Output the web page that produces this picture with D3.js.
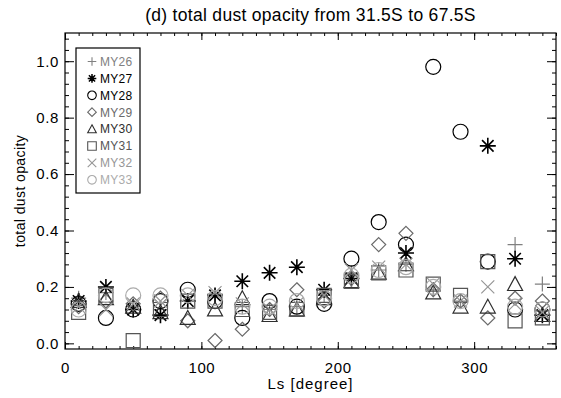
<!DOCTYPE html>
<html>
<head>
<meta charset="utf-8">
<script src="https://cdn.jsdelivr.net/npm/d3@7"></script>
<style>
  html, body { margin: 0; padding: 0; background: #fff; }
  svg { display: block; }
  text { font-family: "Liberation Sans", "DejaVu Sans", sans-serif; }
</style>
</head>
<body>
<div id="chart"></div>
<script>
// ---------------- data ----------------
const ls = [10, 30, 50, 70, 90, 110, 130, 150, 170, 190, 210, 230, 250, 270, 290, 310, 330, 350];
const seriesNames = ["MY26", "MY27", "MY28", "MY29", "MY30", "MY31", "MY32", "MY33"];
const my26 = [0.16, 0.18, 0.13, 0.12, 0.15, 0.17, 0.13, 0.12, 0.13, 0.17, 0.25, 0.26, 0.28, 0.19, 0.15, null, 0.35, 0.21];
const my27 = [0.15, 0.20, 0.12, 0.10, 0.15, 0.17, 0.22, 0.25, 0.27, 0.19, 0.23, null, 0.32, null, null, 0.70, 0.30, 0.10];
const my28 = [0.14, 0.09, 0.12, 0.15, 0.19, 0.15, 0.09, 0.15, 0.13, 0.14, 0.30, 0.43, 0.35, 0.98, 0.75, 0.29, 0.12, 0.12];
const my29 = [0.13, 0.15, 0.14, 0.16, 0.08, 0.01, 0.05, 0.12, 0.19, 0.15, 0.23, 0.35, 0.39, 0.19, 0.15, 0.09, 0.16, 0.15];
const my30 = [0.15, 0.16, 0.13, 0.11, 0.09, 0.12, 0.16, 0.10, 0.12, 0.16, 0.22, 0.25, 0.28, 0.18, 0.13, 0.13, 0.21, 0.10];
const my31 = [0.11, 0.17, 0.01, 0.12, 0.15, 0.15, 0.12, 0.11, 0.12, 0.17, 0.22, 0.25, 0.26, 0.21, 0.17, 0.29, 0.08, 0.09];
const my32 = [0.13, 0.12, 0.14, 0.15, 0.17, 0.18, 0.14, 0.12, 0.14, 0.17, 0.26, 0.27, 0.28, 0.21, 0.15, 0.20, 0.14, 0.11];
const my33 = [0.12, 0.17, 0.17, 0.17, 0.17, 0.16, 0.13, 0.13, 0.15, 0.16, 0.24, 0.26, 0.27, 0.20, 0.15, null, 0.13, 0.12];
const seriesValues = [my26, my27, my28, my29, my30, my31, my32, my33];
const seriesSymbols = ["plus", "asterisk", "circle", "diamond", "triangle", "square", "cross", "circle"];
const seriesColors = ["#808080", "#000000", "#000000", "#6a6a6a", "#2e2e2e", "#555555", "#969696", "#ababab"];

const xTicks = [0, 100, 200, 300];
const yTicks = [0.0, 0.2, 0.4, 0.6, 0.8, 1.0];
const titleText = "(d) total dust opacity from 31.5S to 67.5S";
const xLabel = "Ls [degree]";
const yLabel = "total dust opacity";

// ---------------- layout ----------------
const W = 561, H = 398;
const M = { left: 65, right: 5, top: 33, bottom: 49 };
const pw = W - M.left - M.right, ph = H - M.top - M.bottom;

const x = d3.scaleLinear().domain([0, 360]).range([0, pw]);
const y = d3.scaleLinear().domain([-0.02, 1.1]).range([ph, 0]);

const svg = d3.select("#chart").append("svg").attr("width", W).attr("height", H);
const g = svg.append("g").attr("transform", `translate(${M.left},${M.top})`);

// symbol path generator
function symPath(type, s) {
  switch (type) {
    case "plus": return `M${-s},0L${s},0M0,${-s}L0,${s}`;
    case "cross": return `M${-s},${-s}L${s},${s}M${-s},${s}L${s},${-s}`;
    case "asterisk": {
      const d = s * 0.72;
      return `M${-s},0L${s},0M0,${-s}L0,${s}M${-d},${-d}L${d},${d}M${-d},${d}L${d},${-d}`;
    }
    case "diamond": return `M0,${-s}L${s},0L0,${s}L${-s},0Z`;
    case "triangle": return `M0,${-s}L${s},${s * 0.85}L${-s},${s * 0.85}Z`;
    case "square": return `M${-s},${-s}L${s},${-s}L${s},${s}L${-s},${s}Z`;
    case "circle": return `M${s},0A${s},${s} 0 1,1 ${-s},0A${s},${s} 0 1,1 ${s},0Z`;
  }
}
const symSize = { plus: 7.5, cross: 6.5, asterisk: 8, diamond: 7, triangle: 7.5, square: 7, circle: 7.5 };

// ---------------- axes (IDL style, inward ticks, all four sides) ----------------
const axisStyle = sel => {
  sel.select(".domain").remove();
  sel.selectAll("line").attr("stroke", "#000").attr("stroke-width", 1);
  sel.selectAll("text").attr("font-size", 15).attr("letter-spacing", 0.6).attr("fill", "#000");
};
const xMinor = d3.range(0, 361, 10);
const yMinor = d3.range(0, 1.1001, 0.04).map(v => +v.toFixed(2));

// bottom
g.append("g").attr("transform", `translate(0,${ph})`)
  .call(d3.axisBottom(x).tickValues(xMinor).tickSize(-3).tickFormat(""))
  .call(axisStyle);
g.append("g").attr("transform", `translate(0,${ph})`)
  .call(d3.axisBottom(x).tickValues(xTicks).tickSize(-7).tickPadding(13).tickFormat(d3.format("d")))
  .call(axisStyle);
// top
g.append("g")
  .call(d3.axisTop(x).tickValues(xMinor).tickSize(-3).tickFormat(""))
  .call(axisStyle);
g.append("g")
  .call(d3.axisTop(x).tickValues(xTicks).tickSize(-7).tickFormat(""))
  .call(axisStyle);
// left
g.append("g")
  .call(d3.axisLeft(y).tickValues(yMinor).tickSize(-4).tickFormat(""))
  .call(axisStyle);
g.append("g")
  .call(d3.axisLeft(y).tickValues(yTicks).tickSize(-9).tickPadding(6).tickFormat(d3.format(".1f")))
  .call(axisStyle);
// right
g.append("g").attr("transform", `translate(${pw},0)`)
  .call(d3.axisRight(y).tickValues(yMinor).tickSize(-4).tickFormat(""))
  .call(axisStyle);
g.append("g").attr("transform", `translate(${pw},0)`)
  .call(d3.axisRight(y).tickValues(yTicks).tickSize(-9).tickFormat(""))
  .call(axisStyle);

// frame
g.append("rect").attr("width", pw).attr("height", ph)
  .attr("fill", "none").attr("stroke", "#000").attr("stroke-width", 1.2);

// ---------------- data marks ----------------
const clip = g.append("clipPath").attr("id", "clip").append("rect").attr("width", pw).attr("height", ph + 4);
const marks = g.append("g").attr("clip-path", "url(#clip)");
seriesValues.forEach((vals, i) => {
  const pts = ls.map((l, j) => ({ l, v: vals[j] })).filter(d => d.v != null);
  marks.append("g").selectAll("path").data(pts).join("path")
    .attr("transform", d => `translate(${x(d.l)},${y(d.v)})`)
    .attr("d", symPath(seriesSymbols[i], symSize[seriesSymbols[i]]))
    .attr("fill", "none")
    .attr("stroke", seriesColors[i])
    .attr("stroke-width", seriesSymbols[i] === "asterisk" ? 1.6 : 1.2);
});

// ---------------- legend ----------------
const lg = g.append("g").attr("transform", "translate(11,15)");
lg.append("rect").attr("width", 64).attr("height", 145)
  .attr("fill", "#fff").attr("stroke", "#000").attr("stroke-width", 1.2);
seriesNames.forEach((name, i) => {
  const yy = 13.5 + i * 16.9;
  lg.append("path").attr("transform", `translate(16,${yy})`)
    .attr("d", symPath(seriesSymbols[i], 4.3))
    .attr("fill", "none").attr("stroke", seriesColors[i])
    .attr("stroke-width", seriesSymbols[i] === "asterisk" ? 1.5 : 1.1);
  lg.append("text").attr("x", 24).attr("y", yy).attr("dy", "0.36em")
    .attr("font-size", 12).attr("letter-spacing", 0.3).attr("fill", seriesColors[i]).text(name);
});

// ---------------- titles ----------------
svg.append("text").attr("x", M.left + pw / 2).attr("y", 21)
  .attr("text-anchor", "middle").attr("font-size", 17.5).attr("letter-spacing", 0.3).text(titleText);
svg.append("text").attr("x", M.left + pw / 2).attr("y", 389)
  .attr("text-anchor", "middle").attr("font-size", 15).attr("letter-spacing", 1).text(xLabel);
svg.append("text").attr("transform", `translate(25,${M.top + ph / 2}) rotate(-90)`)
  .attr("text-anchor", "middle").attr("font-size", 14).attr("letter-spacing", 0.4).text(yLabel);
</script>
</body>
</html>
